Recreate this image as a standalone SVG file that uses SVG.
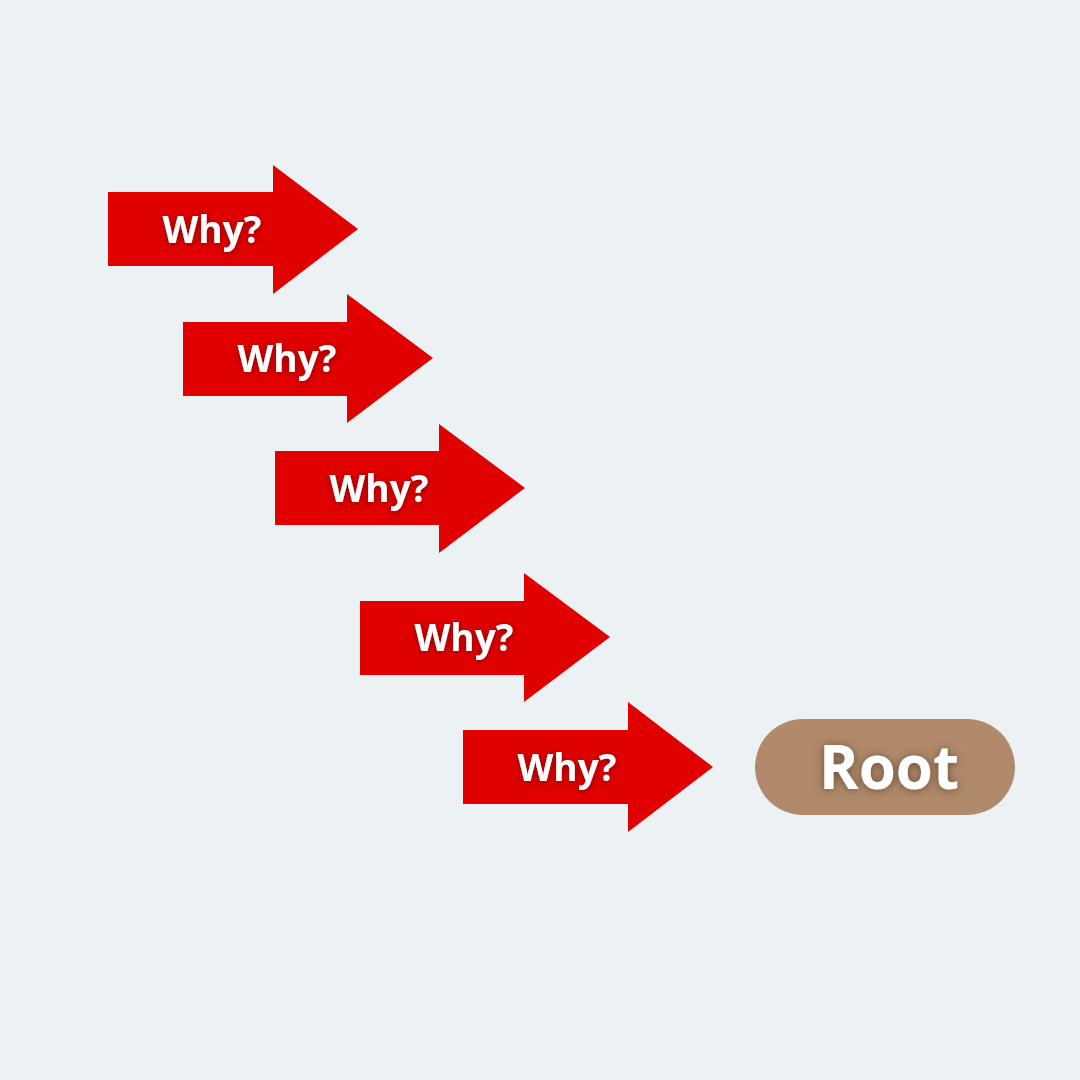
<svg xmlns="http://www.w3.org/2000/svg" width="1080" height="1080" viewBox="0 0 1080 1080">
<defs>
<filter id="sh" x="-30%" y="-50%" width="160%" height="200%">
<feGaussianBlur in="SourceAlpha" stdDeviation="3"/>
<feOffset dx="0" dy="1" result="b"/>
<feFlood flood-color="#7a0000" flood-opacity="0.9"/>
<feComposite in2="b" operator="in"/>
<feMerge><feMergeNode/><feMergeNode in="SourceGraphic"/></feMerge>
</filter>
<filter id="sh2" x="-30%" y="-50%" width="160%" height="200%">
<feGaussianBlur in="SourceAlpha" stdDeviation="5"/>
<feOffset dx="0" dy="1" result="b"/>
<feFlood flood-color="#5a4030" flood-opacity="0.85"/>
<feComposite in2="b" operator="in"/>
<feMerge><feMergeNode/><feMergeNode in="SourceGraphic"/></feMerge>
</filter>
</defs>
<style>
.arr{fill:#e00000}
.why{font-family:"Open Sans","Liberation Sans",sans-serif;font-weight:bold;font-size:37px;fill:#ffffff;text-anchor:middle}
.root{font-family:"Open Sans","Liberation Sans",sans-serif;font-weight:bold;font-size:60px;fill:#ffffff;text-anchor:middle}
</style>
<rect width="1080" height="1080" fill="#ecf1f4"/>
<g id="why1"><polygon class="arr" points="108,192 273,192 273,165 358,229 273,294 273,266 108,266"/><text class="why" x="212" y="243" filter="url(#sh)">Why?</text></g>
<g id="why2"><polygon class="arr" points="183,322 347,322 347,294 433,358 347,423 347,396 183,396"/><text class="why" x="287" y="372" filter="url(#sh)">Why?</text></g>
<g id="why3"><polygon class="arr" points="275,451 439,451 439,424 525,488 439,553 439,525 275,525"/><text class="why" x="379" y="502" filter="url(#sh)">Why?</text></g>
<g id="why4"><polygon class="arr" points="360,601 524,601 524,573 610,637 524,702 524,675 360,675"/><text class="why" x="464" y="651" filter="url(#sh)">Why?</text></g>
<g id="why5"><polygon class="arr" points="463,730 628,730 628,702 713,767 628,832 628,804 463,804"/><text class="why" x="567" y="781" filter="url(#sh)">Why?</text></g>
<g id="root"><rect x="755" y="719" width="260" height="96" rx="48" fill="#b08a6a"/><text class="root" x="889" y="789" filter="url(#sh2)">Root</text></g>
<g id="connectors"></g>
</svg>
